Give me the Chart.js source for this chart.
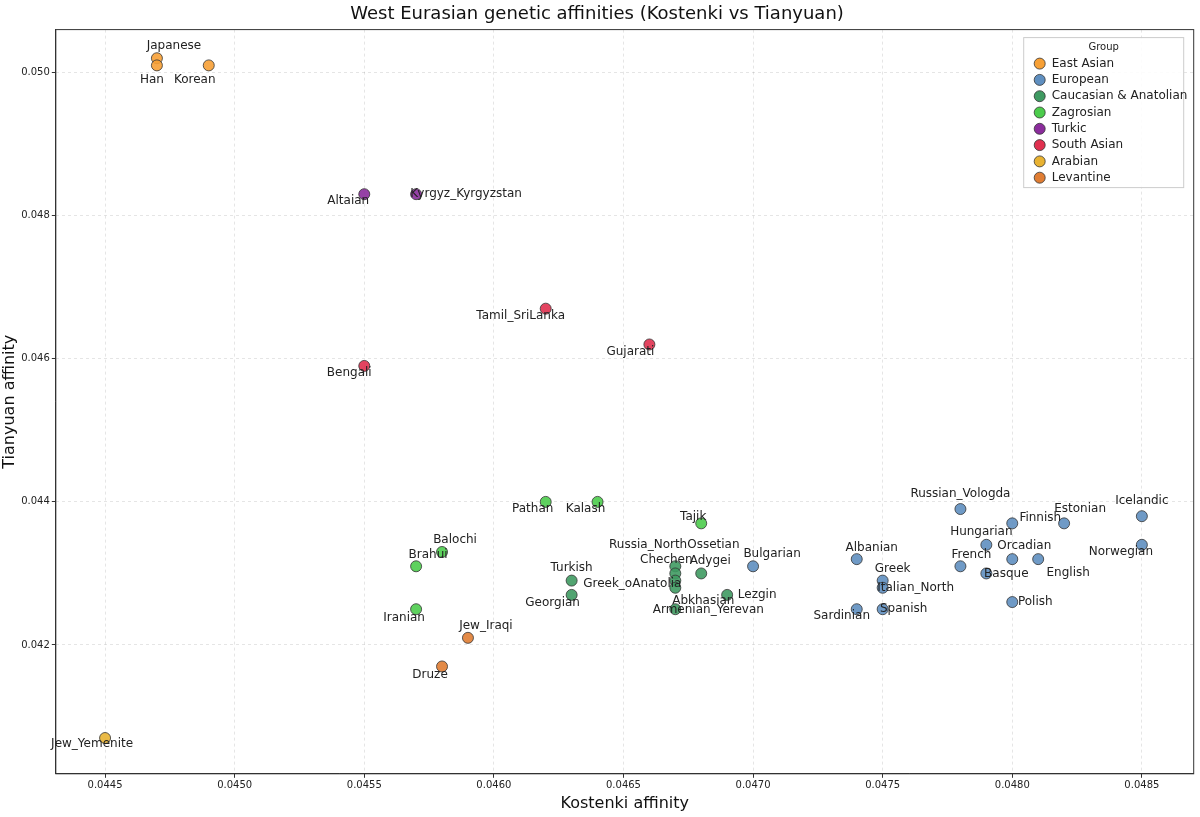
<!DOCTYPE html>
<html><head><meta charset="utf-8">
<script src="https://cdn.jsdelivr.net/npm/chart.js@4"></script>
<style>body{margin:0;background:#fff}#wrap{width:1200px;height:817px}</style>
</head><body><div id="wrap"><canvas id="c"></canvas></div>
<script>
// groups and colours
const groups = ['East Asian','European','Caucasian & Anatolian','Zagrosian','Turkic','South Asian','Arabian','Levantine']
const colors = ['#f7a035','#5f8fc0','#3f9a62','#4ccc4c','#8b2c9c','#e0304f','#e8b232','#e07d33']
// populations: name, group index, kostenki, tianyuan
const names = ['Japanese','Han','Korean','Altaian','Kyrgyz_Kyrgyzstan','Tamil_SriLanka','Gujarati','Bengali',
  'Pathan','Kalash','Tajik','Balochi','Brahui','Iranian','Jew_Iraqi','Druze','Jew_Yemenite',
  'Turkish','Georgian','Russia_NorthOssetian','Chechen','Greek_oAnatolia','Armenian_Yerevan','Abkhasian','Adygei','Lezgin',
  'Bulgarian','Albanian','Sardinian','Greek','Italian_North','Spanish','Russian_Vologda','French','Hungarian','Basque',
  'Finnish','Orcadian','Polish','Estonian','English','Icelandic','Norwegian']
const groupOf = [0,0,0,4,4,5,5,5, 3,3,3,3,3,3,7,7,6, 2,2,2,2,2,2,2,2,2, 1,1,1,1,1,1,1,1,1,1, 1,1,1,1,1,1,1]
const kostenki = [0.0447,0.0447,0.0449,0.0455,0.0457,0.0462,0.0466,0.0455,
  0.0462,0.0464,0.0468,0.0458,0.0457,0.0457,0.0459,0.0458,0.0445,
  0.0463,0.0463,0.0467,0.0467,0.0467,0.0467,0.0467,0.0468,0.0469,
  0.0470,0.0474,0.0474,0.0475,0.0475,0.0475,0.0478,0.0478,0.0479,0.0479,
  0.0480,0.0480,0.0480,0.0482,0.0481,0.0485,0.0485]
const tianyuan = [0.0502,0.0501,0.0501,0.0483,0.0483,0.0467,0.0462,0.0459,
  0.0440,0.0440,0.0437,0.0433,0.0431,0.0425,0.0421,0.0417,0.0407,
  0.0429,0.0427,0.0431,0.0430,0.0429,0.0428,0.0425,0.0430,0.0427,
  0.0431,0.0432,0.0425,0.0429,0.0428,0.0425,0.0439,0.0431,0.0434,0.0430,
  0.0437,0.0432,0.0426,0.0437,0.0432,0.0438,0.0434]
const xTicks = [0.0445,0.0450,0.0455,0.0460,0.0465,0.0470,0.0475,0.0480,0.0485]
const yTicks = [0.042,0.044,0.046,0.048,0.050]
// label offsets in px (dx, dy) relative to the point
const labelOffset = {
  Japanese:[17,-12],Han:[-5,14],Korean:[-14,14],Altaian:[-16,7],Kyrgyz_Kyrgyzstan:[50,0],Tamil_SriLanka:[-25,7],
  Gujarati:[-19,7],Bengali:[-15,7],Pathan:[-13,7],Kalash:[-12,7],Tajik:[-8,-6],Balochi:[13,-12],Brahui:[12,-11],
  Iranian:[-12,9],Jew_Iraqi:[18,-12],Druze:[-12,8],Jew_Yemenite:[-13,6],Turkish:[0,-13],Georgian:[-19,8],
  Russia_NorthOssetian:[-1,-21],Chechen:[-9,-14],Greek_oAnatolia:[-43,3],Armenian_Yerevan:[33,22],Abkhasian:[28,-8],
  Adygei:[9,-13],Lezgin:[30,0],Bulgarian:[19,-12],Albanian:[15,-11],Sardinian:[-15,7],Greek:[10,-12],
  Italian_North:[33,0],Spanish:[21,0],Russian_Vologda:[0,-15],French:[11,-11],Hungarian:[-5,-13],Basque:[20,0],
  Finnish:[28,-5],Orcadian:[12,-13],Polish:[23,0],Estonian:[16,-14],English:[30,14],Icelandic:[0,-15],Norwegian:[-21,7]
}

const datasets = groups.map((g, gi) => ({
  label: g,
  data: names.map((n, i) => ({ x: kostenki[i], y: tianyuan[i], name: n })).filter((p, i) => groupOf[i] === gi),
  backgroundColor: colors[gi] + 'e6',
  borderColor: '#333',
  borderWidth: 0.8,
  pointRadius: 5.5
}))

const labels = {
  id: 'labels',
  afterDatasetsDraw (chart) {
    const ctx = chart.ctx
    const a = chart.chartArea
    ctx.save()
    // frame
    ctx.strokeStyle = '#333'
    ctx.lineWidth = 1
    ctx.strokeRect(a.left, a.top, a.right - a.left, a.bottom - a.top)
    ctx.font = '12px "DejaVu Sans"'
    ctx.fillStyle = '#222'
    ctx.textAlign = 'center'
    ctx.textBaseline = 'middle'
    chart.data.datasets.forEach((ds, di) => {
      chart.getDatasetMeta(di).data.forEach((el, j) => {
        const n = ds.data[j].name
        const o = labelOffset[n] || [0, -12]
        ctx.fillText(n, el.x + o[0], el.y + o[1])
      })
    })
    // legend box
    const bx = a.right - 170, by = a.top + 8, bw = 160, bh = 150
    ctx.fillStyle = 'rgba(255,255,255,0.85)'
    ctx.strokeStyle = '#ccc'
    ctx.fillRect(bx, by, bw, bh)
    ctx.strokeRect(bx, by, bw, bh)
    ctx.fillStyle = '#222'
    ctx.font = '10px "DejaVu Sans"'
    ctx.fillText('Group', bx + bw / 2, by + 10)
    ctx.textAlign = 'left'
    ctx.font = '12px "DejaVu Sans"'
    groups.forEach((g, i) => {
      const y = by + 26 + i * 16.3
      ctx.beginPath()
      ctx.arc(bx + 16, y, 5.5, 0, Math.PI * 2)
      ctx.fillStyle = colors[i]
      ctx.fill()
      ctx.strokeStyle = '#333'
      ctx.lineWidth = 0.8
      ctx.stroke()
      ctx.fillStyle = '#222'
      ctx.fillText(g, bx + 28, y)
    })
    ctx.restore()
  }
}

new Chart(document.getElementById('c'), {
  type: 'scatter',
  data: { datasets },
  plugins: [labels],
  options: {
    responsive: true,
    maintainAspectRatio: false,
    animation: false,
    layout: { padding: { right: 6, bottom: 4, top: 4 } },
    plugins: {
      legend: { display: false },
      tooltip: { enabled: false },
      title: { display: true, text: 'West Eurasian genetic affinities (Kostenki vs Tianyuan)', color: '#111', font: { size: 18, family: 'DejaVu Sans', weight: 'normal' }, padding: { top: 0, bottom: 4 } }
    },
    scales: {
      x: {
        min: 0.04431, max: 0.0487,
        afterBuildTicks: s => { s.ticks = xTicks.map(v => ({ value: v })) },
        ticks: { callback: v => v.toFixed(4), color: '#222', font: { size: 10, family: 'DejaVu Sans' }, maxRotation: 0, padding: 2 },
        grid: { color: 'rgba(0,0,0,0.1)', tickColor: '#333', tickLength: 4 },
        border: { color: '#333', dash: [3, 3] },
        title: { display: true, text: 'Kostenki affinity', color: '#111', font: { size: 16, family: 'DejaVu Sans' }, padding: 0 }
      },
      y: {
        min: 0.0402, max: 0.0506,
        afterBuildTicks: s => { s.ticks = yTicks.map(v => ({ value: v })) },
        ticks: { callback: v => v.toFixed(3), color: '#222', font: { size: 10, family: 'DejaVu Sans' }, padding: 2 },
        grid: { color: 'rgba(0,0,0,0.1)', tickColor: '#333', tickLength: 4 },
        border: { color: '#333', dash: [3, 3] },
        title: { display: true, text: 'Tianyuan affinity', color: '#111', font: { size: 16, family: 'DejaVu Sans' }, padding: 0 }
      }
    }
  }
})
</script></body></html>
